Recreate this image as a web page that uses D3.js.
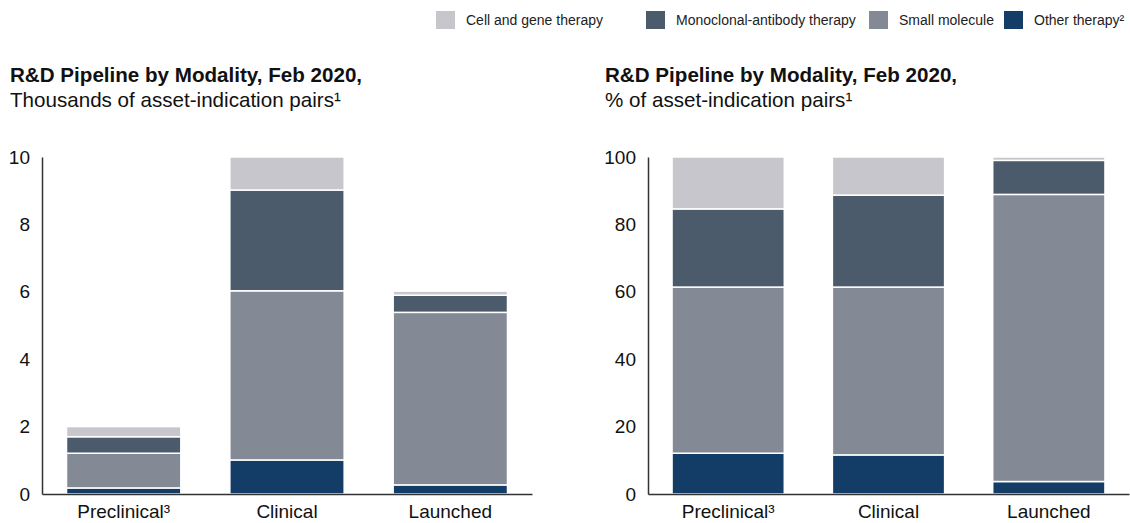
<!DOCTYPE html>
<html>
<head>
<meta charset="utf-8">
<script src="https://cdn.jsdelivr.net/npm/d3@7"></script>
<style>
  body { margin: 0; background: #fff; }
  svg { display: block; font-family: "Liberation Sans", Arial, sans-serif; }
</style>
</head>
<body>
<script>
// chart size
let width = 1130, height = 523

// data
let stages = ["Preclinical³", "Clinical", "Launched"]
let modalities = ["Other therapy²", "Small molecule", "Monoclonal-antibody therapy", "Cell and gene therapy"]
let legendOrder = ["Cell and gene therapy", "Monoclonal-antibody therapy", "Small molecule", "Other therapy²"]

// thousands of asset-indication pairs (left chart)
let countOther = [0.18, 1.01, 0.27]
let countSmall = [1.03, 5.02, 5.12]
let countMab   = [0.49, 2.99, 0.51]
let countCell  = [0.30, 0.98, 0.12]

// % of asset-indication pairs (right chart)
let shareOther = [12.1, 11.6, 3.7]
let shareSmall = [49.3, 49.8, 85.2]
let shareMab   = [23.2, 27.3, 10.1]
let shareCell  = [15.4, 11.3, 1.0]

let countTicks = [0, 2, 4, 6, 8, 10]
let shareTicks = [0, 20, 40, 60, 80, 100]

//colors per modality
let color = d3.scaleOrdinal()
    .domain(modalities)
    .range(["#133c66", "#838a95", "#4b5b6b", "#c6c6cc"])

let svg = d3.select("body")
    .append("svg")
    .attr("width", width)
    .attr("height", height)

// legend (x offsets of each item, laid out like the reference)
let legendX = [436, 646, 869, 1004]
let legend = svg.append("g")
    .selectAll("g")
    .data(legendOrder)
    .join("g")
    .attr("transform", (d, i) => `translate(${legendX[i]},11)`)

legend.append("rect")
    .attr("width", 19)
    .attr("height", 18)
    .attr("fill", d => color(d))

legend.append("text")
    .attr("x", 30)
    .attr("y", 14)
    .attr("font-size", 14)
    .attr("fill", "#222")
    .text(d => d)

// builds a row per stage, then stacks them
function buildRows(other, small, mab, cell) {
    return stages.map((s, i) => ({
        stage: s,
        [modalities[0]]: other[i],
        [modalities[1]]: small[i],
        [modalities[2]]: mab[i],
        [modalities[3]]: cell[i]
    }))
}

function drawChart(opts) {
    let g = svg.append("g")

    g.append("text")
        .attr("x", opts.titleX)
        .attr("y", 82)
        .attr("font-size", 20.6)
        .attr("font-weight", "bold")
        .attr("fill", "#111")
        .text("R&D Pipeline by Modality, Feb 2020,")

    g.append("text")
        .attr("x", opts.titleX)
        .attr("y", 107)
        .attr("font-size", 20.6)
        .attr("fill", "#111")
        .text(opts.subtitle)

    let x = d3.scaleBand()
        .domain(stages)
        .range(opts.xRange)
        .paddingInner(0.3)
        .paddingOuter(0.15)

    let y = d3.scaleLinear()
        .domain([0, opts.max])
        .range([494, 157])

    let series = d3.stack().keys(modalities)(opts.rows)

    g.append("g")
        .selectAll("g")
        .data(series)
        .join("g")
        .attr("fill", d => color(d.key))
        .selectAll("rect")
        .data(d => d)
        .join("rect")
        .attr("x", d => x(d.data.stage))
        .attr("width", x.bandwidth())
        .attr("y", d => y(d[1]))
        .attr("height", d => y(d[0]) - y(d[1]))
        .attr("stroke", "#fff")
        .attr("stroke-width", 1.5)

    // y axis
    let yAxis = g.append("g")
        .attr("transform", `translate(${opts.xRange[0]},0)`)
        .call(d3.axisLeft(y).tickValues(opts.ticks).tickSize(0).tickSizeOuter(0).tickPadding(12))
    yAxis.selectAll("text").attr("font-size", 19).attr("fill", "#111").attr("font-family", null)
    yAxis.select(".domain").attr("stroke", "#333").attr("stroke-width", 1.5)

    // x axis
    let xAxis = g.append("g")
        .attr("transform", "translate(0,494)")
        .call(d3.axisBottom(x).tickSize(0).tickSizeOuter(0).tickPadding(11))
    xAxis.selectAll("text").attr("font-size", 19).attr("fill", "#111").attr("font-family", null)
    xAxis.select(".domain").attr("stroke", "#333").attr("stroke-width", 1.5)
}

drawChart({
    titleX: 10,
    subtitle: "Thousands of asset-indication pairs¹",
    xRange: [42, 532],
    max: 10,
    ticks: countTicks,
    rows: buildRows(countOther, countSmall, countMab, countCell)
})

drawChart({
    titleX: 605,
    subtitle: "% of asset-indication pairs¹",
    xRange: [648, 1129],
    max: 100,
    ticks: shareTicks,
    rows: buildRows(shareOther, shareSmall, shareMab, shareCell)
})
</script>
</body>
</html>
